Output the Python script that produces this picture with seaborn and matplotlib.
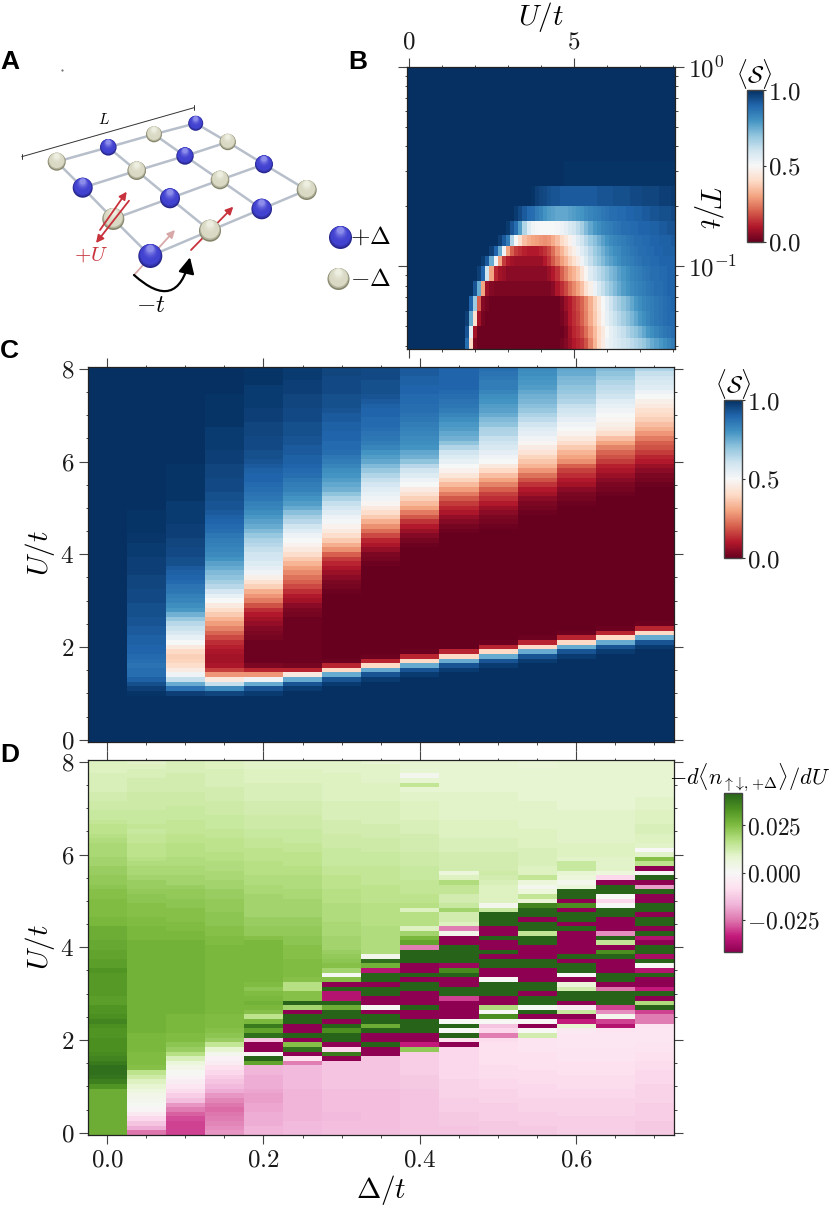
import numpy as np
import pandas as pd
import matplotlib
matplotlib.use('Agg')
import matplotlib.pyplot as plt
import seaborn as sns
from matplotlib.patches import Circle, FancyArrowPatch
from matplotlib.ticker import LogLocator, NullFormatter

W, H = 831, 1210

# ---- panel A: lattice, pixel positions of the sketch
site_x = [56.7, 108.3, 154, 195.7, 82.7, 136.7, 185, 227.7, 113.3, 170, 220, 264, 150.3, 210, 261.7, 306.7]
site_y = [161.7, 147.3, 134.3, 123.3, 187.7, 170.7, 156, 142, 219, 198.3, 180, 164.3, 256, 230.7, 209, 190]
site_r = [9, 8.3, 8, 7.5, 10, 9.3, 8.7, 8.2, 11, 10, 9.3, 9, 12, 11, 10.3, 10]
site_kind = ['g', 'b', 'g', 'b', 'b', 'g', 'b', 'g', 'g', 'b', 'g', 'b', 'b', 'g', 'b', 'g']

# ---- panel B: <S>(U, T), rows bottom to top
U_edges_b = np.arange(66) * 0.125 - 0.0625
T_edges = [0.0385, 0.0437, 0.0504, 0.0595, 0.0713, 0.0841, 0.1008, 0.1122, 0.1260, 0.1442, 0.1681, 0.2015, 0.2519, 0.3364, 1.0]
b_rows = [
    [1.0]*14 + [.88,.4,.03] + [.01]*20 + [.02,.04,.07,.1,.12,.14,.18,.25,.33,.4, .46,.52,.54,.56,.58,.6,.61,.63,.65,.67, .69,.72,.75,.77,.79,.81,.83,.85],
    [1.0]*14 + [.93,.55,.08] + [.01]*21 + [.03,.08,.12,.14,.17,.22,.28,.34,.4,.45, .5,.54,.57,.6,.62,.65,.68,.7,.73,.76, .79,.81,.83,.85,.86,.87,.88],
    [1.0]*14 + [.97,.75,.42,.08,.02] + [.01]*18 + [.02,.05,.1,.13,.16,.2,.25,.31,.37,.43, .49,.54,.58,.61,.64,.67,.7,.73,.76,.79, .81,.83,.85,.86,.87,.88,.89,.89],
    [1.0]*15 + [.9,.68,.2,.04,.02] + [.01]*17 + [.03,.07,.1,.14,.17,.21,.26,.32,.38,.44, .5,.55,.6,.64,.67,.7,.73,.76,.79,.81, .83,.84,.85,.86,.87,.88,.89,.9],
    [1.0]*16 + [.93,.75,.3,.07,.04] + [.03]*14 + [.05,.09,.13,.17,.22,.26,.3,.35,.42,.47, .53,.58,.62,.66,.69,.72,.75,.78,.8,.82, .83,.84,.85,.86,.87,.88,.88,.89,.9,.9],
    [1.0]*17 + [.97,.9,.6,.3,.12,.08,.07] + [.05]*10 + [.07,.1,.14,.2,.25,.3,.33,.37,.43,.49, .56,.6,.63,.66,.69,.72,.74,.77,.79,.81, .83,.84,.85,.86,.87,.88,.88,.89,.89,.9,.9],
    [1.0]*18 + [.98,.92,.75,.52,.3,.15,.1,.08] + [.07]*7 + [.1,.14,.19,.24,.29,.33,.38,.42,.46,.52, .57,.62,.66,.69,.72,.75,.77,.79,.81,.83, .84,.85,.86,.87,.88,.88,.89,.89,.9,.9, .9,.9],
    [1.0]*20 + [.97,.9,.75,.52,.3,.2,.15,.13,.11,.1, .1,.1,.12,.14,.17,.22,.28,.33,.38,.43, .47,.52,.56,.6,.64,.68,.71,.74,.77,.79, .81,.82,.84,.85,.86,.87,.88,.88,.89,.89, .9,.9,.91,.91,.91],
    [1.0]*22 + [.97,.92,.85,.65,.5,.42,.35,.32,.3,.29, .28,.27,.28,.31,.35,.4,.44,.48,.52,.56, .6,.64,.68,.71,.74,.77,.8,.82,.83,.84, .85,.86,.87,.88,.88,.89,.89,.9,.9,.91, .91,.91,.92],
    [1.0]*24 + [.98,.93,.88,.78,.65,.57,.52,.51,.5,.5, .5,.5,.51,.53,.55,.58,.6,.63,.67,.72, .76,.79,.81,.83,.84,.85,.86,.87,.88,.88, .89,.89,.9,.9,.9,.91,.91,.92,.92,.93, .93],
    [1.0]*26 + [.98,.95,.92,.89,.88,.85,.83,.8,.78,.77, .76,.76,.76,.77,.78,.79,.8,.82,.83,.84, .85,.86,.87,.88,.88,.89,.89,.9,.9,.91, .91,.92,.92,.93,.93,.94,.94,.94,.95],
    [1.0]*30 + [.99,.97,.96,.95,.94,.93,.93,.92,.92,.92, .92,.92,.92,.92,.92,.92,.93,.93,.93,.93, .94,.94,.94,.94,.95,.95,.95,.96,.96,.96, .96,.97,.97,.97,.98],
    [1.0]*38 + [.99]*27,
    [1.0]*65,
]

# ---- panel C: <S>(Delta, U), one list per Delta, U = 0.0 ... 8.0
delta = [0.0, 0.05, 0.1, 0.15, 0.2, 0.25, 0.3, 0.35, 0.4, 0.45, 0.5, 0.55, 0.6, 0.65, 0.7]
u_vals = [round(i * 0.1, 1) for i in range(81)]
c_0 = [1.0]*81
c_1 = [1.0]*10 + [.99,.97,.94,.91,.88,.88,.87,.88,.89,.9] + [.9,.91,.91,.92,.92,.93,.93,.94,.94,.94] + [.95,.95,.95,.96,.96,.96,.97,.97,.97,.97] + [.98,.98,.98,.985,.985,.99,.99,.99,.99,.99] + [1.0]*31
c_2 = [1.0]*10 + [.97,.87,.75,.62,.52,.46,.41,.39,.38,.40] + [.45,.5,.54,.58,.61,.64,.69,.74,.79,.81] + [.83,.84,.86,.87,.89,.9,.91,.92,.94,.94] + [.95,.95,.96,.96,.97,.97,.97,.98,.98,.98] + [.98,.98,.99,.99,.99,.99,.99,.99,.99,.99] + [1.0]*21
c_3 = [1.0]*10 + [.96,.82,.62,.45,.28,.16,.09,.08,.08,.09] + [.11,.13,.17,.21,.25,.29,.33,.37,.41,.45] + [.5,.54,.59,.64,.67,.7,.72,.75,.77,.8] + [.82,.83,.84,.85,.86,.88,.89,.9,.91,.92] + [.93,.93,.94,.94,.95,.95,.95,.96,.96,.96] + [.97,.97,.97,.98,.98,.98,.98,.98,.99,.99] + [.99]*5 + [1.0]*6
c_4 = [1.0]*10 + [.98,.93,.75,.52,.28,.12,.03,.01,.01,.01] + [.01,.01,.02,.03,.04,.06,.08,.1,.13,.18] + [.24,.28,.32,.38,.42,.47,.52,.55,.57,.59] + [.6,.62,.64,.66,.69,.72,.75,.77,.79,.81] + [.83,.84,.86,.87,.88,.89,.9,.9,.91,.92] + [.93,.94,.94,.95,.95,.95,.96,.96,.96,.97] + [.97,.97,.98,.98,.98,.98,.98,.99,.99,.99,.99]
c_5 = [1.0]*10 + [1.0,.98,.93,.75,.45,.12,.02,.01,.01,.01] + [.01]*7 + [.02,.03,.05] + [.08,.1,.13,.17,.2,.23,.26,.29,.33,.37] + [.41,.45,.48,.5,.53,.56,.6,.64,.67,.71] + [.75,.78,.8,.82,.84,.85,.86,.88,.89,.9] + [.91,.91,.92,.92,.93,.93,.94,.94,.94,.95] + [.95,.95,.96,.96,.96,.97,.97,.97,.98,.98,.98]
c_6 = [1.0]*10 + [1,1,.98,.93,.75,.4,.12,.01,0,0] + [0.0]*10 + [0,0,.01,.02,.03,.05,.07,.09,.12,.15] + [.2,.27,.32,.37,.41,.45,.48,.51,.53,.56] + [.59,.62,.66,.7,.74,.76,.78,.8,.81,.83] + [.85,.86,.88,.89,.89,.9,.9,.91,.91,.92] + [.92,.93,.94,.94,.94,.95,.95,.95,.95,.96,.96]
c_7 = [1.0]*10 + [1,1,1,.98,.93,.75,.4,.12,.01,0] + [0.0]*10 + [0.0]*8 + [.01,.02] + [.03,.06,.09,.12,.17,.22,.27,.32,.37,.41] + [.45,.49,.52,.54,.56,.59,.62,.65,.69,.72] + [.76,.78,.8,.83,.85,.86,.87,.88,.89,.89] + [.9,.9,.91,.92,.93,.94,.94,.94,.95,.95,.95]
c_8 = [1.0]*10 + [1,1,1,1,.98,.93,.75,.4,.12,.01] + [0.0]*20 + [0,0,.01,.02,.04,.07,.1,.14,.19,.24] + [.3,.34,.38,.42,.46,.5,.53,.57,.6,.64] + [.7,.74,.76,.8,.81,.82,.83,.84,.85,.86] + [.87,.88,.88,.89,.89,.9,.9,.91,.91,.92,.92]
c_9 = [1.0]*10 + [1,1,1,1,1,.98,.93,.75,.4,.12] + [0.0]*20 + [0,0,0,0,0,.01,.02,.04,.06,.09] + [.12,.15,.19,.24,.29,.34,.39,.44,.48,.5] + [.54,.57,.6,.65,.7,.74,.76,.78,.79,.81] + [.83,.85,.86,.87,.88,.89,.9,.9,.9,.9,.9]
c_10 = [1.0]*16 + [.98,.93,.75,.4] + [.12,.01] + [0.0]*8 + [0.0]*10 + [0,0,0,0,0,0,.01,.02,.03,.05] + [.07,.1,.13,.16,.2,.25,.3,.35,.4,.45] + [.5,.52,.55,.58,.6,.62,.65,.66,.7,.72] + [.75,.77,.78,.8,.81,.83,.85,.85,.86,.87,.88]
c_11 = [1.0]*17 + [.98,.93,.75] + [.4,.12,.01] + [0.0]*7 + [0.0]*10 + [0.0]*9 + [.01] + [.02,.03,.05,.08,.1,.14,.18,.23,.28,.33] + [.36,.39,.43,.46,.49,.52,.55,.57,.6,.63] + [.66,.69,.71,.73,.74,.76,.78,.79,.8,.81,.82]
c_12 = [1.0]*18 + [.98,.93] + [.75,.4,.12,.01] + [0.0]*6 + [0.0]*20 + [0,.01,.02,.03,.05,.08,.1,.13,.16,.2] + [.27,.3,.33,.37,.41,.45,.48,.5,.52,.55] + [.58,.6,.62,.65,.67,.69,.7,.72,.73,.75,.76]
c_13 = [1.0]*19 + [.98] + [.93,.75,.4,.12,.01] + [0.0]*5 + [0.0]*20 + [0,0,0,.01,.02,.03,.05,.07,.09,.11] + [.15,.18,.21,.25,.3,.35,.41,.45,.47,.49] + [.5,.52,.54,.56,.6,.62,.63,.65,.68,.7,.72]
c_14 = [1.0]*20 + [.98,.93,.75,.4,.12,.01] + [0.0]*4 + [0.0]*20 + [0,0,0,0,0,.01,.02,.03,.05,.07] + [.1,.12,.15,.18,.2,.24,.28,.32,.35,.38] + [.4,.42,.45,.47,.5,.53,.56,.58,.6,.62,.66]

# ---- panel D: -d<n>/dU in units of 1e-3, same grid as panel C
d_0 = [28]*10 + [33,37,39,40,40,38,36,35,34,34] + [34,33,33,34,36,34,33,33,31,31] + [32,32,32,32,32,33,31,31,30,30] + [29,29,28,28,28,26,26,25,25,25] + [25,24,24,23,22,22,21,21,20,20] + [19,19,19,18,17,16,16,15,14,14] + [13,13,12,12,11,11,11,11,10,10,10]
d_1 = [-25,-18,-14,-10,-5,-1,1,2,3,5] + [8,10,13,16,24,25,25,25,26,26] + [26,26,27,27,27,27,27,27,27,27] + [27]*10 + [27,27,26,26,26,25,25,24,24,24] + [23,23,22,21,21,20,19,19,18,17] + [16,16,16,15,15,14,15,14,14,14] + [13,13,13,13,12,12,12,11,11,10,9]
d_2 = [-30,-30,-30,-29,-27,-24,-21,-15,-12,-9] + [-6,-4,-1,1,3,6,11,17,21,23] + [25,25,26,26,26,26,27,27,27,27] + [27]*10 + [27,27,26,26,25,25,24,24,24,23] + [23,22,22,21,20,20,19,19,18,18] + [17,17,17,16,16,15,15,15,14,14] + [14,13,13,13,12,12,12,12,11,11,11]
d_3 = [-21,-22,-23,-24,-25,-26,-25,-23,-21,-18] + [-16,-14,-12,-10,-8,-4,-2,2,8,15] + [21,23,24,25,25,25,26,26,26,26] + [26]*10 + [26,25,25,24,24,23,23,23,22,22] + [22,21,21,20,20,19,19,18,18,17] + [17,16,16,16,15,15,14,14,14,13] + [13,13,12,12,12,11,11,11,11,10,10]
d_4 = [-17,-17,-18,-18,-18,-19,-19,-20,-20,-19] + [-18,-18,-18,-17,-17,30,42,0,-42,-42] + [-14,40,30,38,26,16,24,26,27,26] + [25,23,25,26,26,26,26,26,26,26] + [26,26,24,22,22,21,21,20,20,20] + [20,20,19,19,18,18,17,17,17,16] + [16,16,15,15,14,14,13,13,13,12] + [12,12,11,11,11,11,10,10,10,9,9]
d_5 = [-16,-16,-16,-17,-17,-17,-17,-17,-17,-17] + [-16,-16,-16,-16,-16,-24,-8,-42,40,24] + [-42,42,-42,-42,42,42,-42,20,42,24] + [24,17,17,24,25,25,25,25,24,24] + [24,23,23,22,22,21,21,20,20,20] + [20,19,19,18,18,18,17,17,16,16] + [16,15,15,14,14,14,13,13,13,12] + [12,12,11,11,11,11,10,10,10,9,9]
d_6 = [-15,-15,-15,-16,-16,-15,-15,-15,-15,-15] + [-14,-14,-14,-14,-14,-14,-42,38,-10,-42] + [42,42,34,42,-42,42,42,28,42,-36] + [-36,42,-42,24,1,20,24,23,22,21] + [20,20,20,19,19,19,18,18,18,18] + [17,17,17,16,16,16,15,15,14,14] + [14,14,13,13,13,12,12,12,11,11] + [11,11,10,10,10,10,10,10,9,9,9]
d_7 = [-15,-15,-15,-15,-15,-15,-15,-15,-15,-15] + [-14,-14,-14,-14,-14,-14,-14,-42,-42,42] + [-42,-42,42,28,42,42,-42,1,-42,-42] + [42,42,-42,42,42,-36,27,40,2,18] + [18,18,18,18,18,17,17,17,17,17] + [16,16,16,16,15,15,15,15,14,14] + [14,13,13,13,12,12,12,11,11,11] + [11,11,10,10,10,10,9,9,9,9,8]
d_8 = [-14]*10 + [-13,-13,-13,-12,-12,-12,-12,-12,22,-34] + [-42,-42,42,42,42,-42,-42,42,-42,-42] + [-42,42,42,-42,42,-42,-42,42,42,42] + [-24,30,26,20,10,17,17,17,10,17] + [16,16,15,15,15,14,14,14,13,13] + [13,12,12,12,12,11,11,11,10,10] + [10,10,9,9,8,15,8,2,8,8,8]
d_9 = [-14,-14,-13,-13,-13,-12,-12,-12,-11,-11] + [-11,-11,-10,-10,-10,-10,-10,-10,-10,-42] + [-8,42,0,42,0,-42,-42,-42,-42,-30] + [42,42,-42,-42,42,35,-40,42,42,42] + [42,-42,-42,3,-24,10,12,12,20,14] + [12,12,15,15,18,10,6,12,12,12] + [12,11,11,11,10,10,10,10,9,9] + [9,9,9,9,8,8,8,8,8,8,8]
d_10 = [-13,-13,-13,-12,-12,-12,-12,-11,-11,-11] + [-10,-10,-9,-9,-9,-8,-8,-8,-8,-8] + [-9,-24,-10,-14,0,34,0,18,-42,-42] + [42,42,42,0,-42,-42,42,42,-42,42] + [-42,-42,42,-42,-42,42,42,42,14,2] + [10,10,10,10,11,12,13,12,12,12] + [12,11,11,11,10,10,10,10,9,9] + [9,9,9,9,8,8,8,8,8,8,8]
d_11 = [-13,-13,-12,-12,-12,-11,-11,-11,-10,-10] + [-10,-9,-9,-9,-8,-8,-8,-8,-7,-7] + [-7,12,0,-42,0,-42,42,1,42,42] + [-42,42,42,-42,-42,-42,42,42,-42,-42] + [-42,42,42,15,42,42,-42,42,42,36] + [7,15,6,2,6,15,10,10,11,11] + [11,11,10,10,10,10,9,9,9,9] + [9,9,8,8,8,8,8,8,8,7,7]
d_12 = [-12,-12,-12,-12,-11,-11,-11,-11,-10,-10] + [-9,-9,-9,-8,-8,-8,-7,-7,-7,-6] + [-6,-6,-5,8,-34,-42,14,-4,-42,42] + [42,12,6,-42,0,42,42,-42,42,-42] + [-42,-42,-42,-42,42,-42,42,42,-42,34] + [-42,42,42,6,2,6,8,14,14,9] + [10,10,10,9,9,9,9,9,9,9] + [8]*11
d_13 = [-12,-12,-12,-12,-11,-11,-11,-11,-10,-10] + [-9,-9,-9,-8,-8,-8,-7,-7,-7,-6] + [-6,-6,-7,-36,-30,2,-22,-30,42,42] + [42,-25,-42,42,42,-42,-42,-42,42,34] + [-42,15,42,-22,-42,-42,-42,42,42,0] + [-10,0,42,42,-42,-10,6,9,9,9] + [10,10,10,9,9,9,9,9,9,9] + [8]*11
d_14 = [-13,-13,-13,-12,-12,-12,-12,-11,-11,-11] + [-11,-10,-10,-10,-9,-9,-8,-8,-7,-7] + [-6,-6,-6,-7,-24,-24,-30,42,18,-42] + [42,-34,-42,-42,42,-36,0,42,-38,42] + [42,-42,-36,42,-42,42,42,-42,42,42] + [-42,-42,42,-20,-42,42,0,-42,16,24] + [9,0,9,10,10,11,11,10,10,10] + [9,9,9,8,8,8,8,8,8,8,8]

c_cols = [c_0, c_1, c_2, c_3, c_4, c_5, c_6, c_7, c_8, c_9, c_10, c_11, c_12, c_13, c_14]
d_cols = [d_0, d_1, d_2, d_3, d_4, d_5, d_6, d_7, d_8, d_9, d_10, d_11, d_12, d_13, d_14]


def fit(col, n):
    return (list(col) + [col[-1]] * n)[:n]


sns.set_theme(style='ticks')
plt.rcParams['mathtext.fontset'] = 'cm'
plt.rcParams['font.family'] = ['DejaVu Serif']
plt.rcParams['text.color'] = 'black'
plt.rcParams['xtick.labelcolor'] = '#1a1a1a'
plt.rcParams['ytick.labelcolor'] = '#1a1a1a'

fig = plt.figure(figsize=(W / 100, H / 100), dpi=100)


def px_axes(x0, y0, x1, y1, **kw):
    return fig.add_axes([x0 / W, 1 - y1 / H, (x1 - x0) / W, (y1 - y0) / H], **kw)


def style_ticks(ax):
    ax.tick_params(which='major', direction='out', length=6.5, width=0.8, color='#444444',
                   top=True, bottom=True, left=True, right=True, labelsize=18, pad=3)
    ax.tick_params(which='minor', direction='out', length=1.8, width=0.7, color='#444444',
                   top=True, bottom=True, left=True, right=True)
    for s in ax.spines.values():
        s.set_visible(True)
        s.set_linewidth(0.9)
        s.set_color('#222222')


def style_cbar(cb, ticks, labels, size=18):
    cb.set_ticks(ticks)
    cb.set_ticklabels(labels)
    cb.ax.tick_params(which='major', length=2.5, width=0.8, labelsize=size, pad=1, color='#333333')
    cb.ax.minorticks_off()
    cb.outline.set_visible(True)
    cb.outline.set_linewidth(1.0)
    cb.outline.set_edgecolor('#444444')


rdbu = sns.color_palette('RdBu', as_cmap=True)
piyg = sns.color_palette('PiYG', as_cmap=True)

# overlay for the lattice sketch and free text, kept above the panels
over = px_axes(0, 0, W, H)
over.set_xlim(0, W)
over.set_ylim(H, 0)
over.axis('off')
over.set_zorder(10)

for r in range(4):
    for c in range(4):
        i = 4 * r + c
        if c < 3:
            over.plot([site_x[i], site_x[i + 1]], [site_y[i], site_y[i + 1]], color='#b7bfcb', lw=1.8, zorder=1)
        if r < 3:
            over.plot([site_x[i], site_x[i + 4]], [site_y[i], site_y[i + 4]], color='#b7bfcb', lw=1.8, zorder=1)


def sphere(x, y, r, kind, z=2):
    if kind == 'b':
        edge, mid, high = np.array([.15, .15, .55]), np.array([.26, .26, .82]), np.array([.55, .55, .92])
    else:
        edge, mid, high = np.array([.52, .52, .42]), np.array([.85, .85, .77]), np.array([.93, .93, .88])
    for k in range(10):
        f = k / 9
        col = edge + (mid - edge) * min(f * 5, 1) + (high - mid) * max(f * 1.6 - 0.6, 0) ** 2
        over.add_patch(Circle((x, y - 0.62 * r * f), r * (1 - 0.7 * f), fc=col, ec='none', zorder=z))


for x, y, r, k in zip(site_x, site_y, site_r, site_kind):
    sphere(x, y, r, k)
sphere(340.5, 237.5, 11.5, 'b')
sphere(338.5, 279, 11, 'g')

red = '#c8323c'
for (x0, y0, x1, y1, col, z) in [(100, 230, 126.7, 191.7, red, 3), (129, 200.7, 96, 243, red, 3),
                                 (191, 250, 233.3, 206.7, red, 1.5), (134, 275, 175, 230, '#d8a8a8', 1.5)]:
    over.add_patch(FancyArrowPatch((x0, y0), (x1, y1), arrowstyle='-|>', mutation_scale=11, color=col, lw=1.3, zorder=z, shrinkA=0, shrinkB=0))
over.add_patch(FancyArrowPatch((134, 275), (190, 257.3), arrowstyle='-|>', mutation_scale=24, color='black', lw=1.6,
                               connectionstyle='arc3,rad=0.85', zorder=4, shrinkA=0, shrinkB=0))

# L bar
over.plot([21.7, 194], [156.7, 107.7], color='#333333', lw=0.7, zorder=1)
for bx, by in [(21.7, 156.7), (194, 107.7)]:
    over.plot([bx, bx], [by - 2.5, by + 2.5], color='#333333', lw=0.7)
over.plot([62], [70], marker='.', ms=1, color='#555555')

over.text(104, 120, '$L$', fontsize=11, ha='center', va='center')
over.text(90.7, 255.5, '$+U$', fontsize=15, color=red, ha='center', va='center')
over.text(150.7, 306, '$-t$', fontsize=18, ha='center', va='center')
over.text(371, 237.5, r'$+\Delta$', fontsize=18, ha='center', va='center')
over.text(371, 279, r'$-\Delta$', fontsize=18, ha='center', va='center')
for lab, x, y in [('A', 0, 62), ('B', 348, 62), ('C', 0, 351), ('D', 0, 755)]:
    over.text(x, y, lab, fontsize=19, fontweight='bold', family='Liberation Sans', ha='left', va='center')
over.text(541, 17, '$U/t$', fontsize=21, ha='center', va='center')
over.text(708, 208, '$T/t$', fontsize=21, rotation=-90, ha='center', va='center')
over.text(40, 553, '$U/t$', fontsize=21, rotation=90, ha='center', va='center')
over.text(40, 947, '$U/t$', fontsize=21, rotation=90, ha='center', va='center')
over.text(381, 1190, r'$\Delta/t$', fontsize=21, ha='center', va='center')
over.text(754, 74, r'$\langle\mathcal{S}\rangle$', fontsize=17, ha='center', va='center')
over.text(733, 384, r'$\langle\mathcal{S}\rangle$', fontsize=17, ha='center', va='center')
over.text(830, 778, r'$-d\langle n_{\uparrow\!\downarrow\!,\!+\!\Delta}\rangle/dU$', fontsize=16, ha='right', va='center')

# panel B
ax_b = px_axes(407, 67, 675, 349)
b_data = np.array([fit(r, 65) for r in b_rows])
mesh = ax_b.pcolormesh(U_edges_b, T_edges, b_data, cmap=rdbu, vmin=0, vmax=1, linewidth=0, rasterized=True)
ax_b.set_yscale('log')
ax_b.set_xlim(U_edges_b[0], U_edges_b[-1])
ax_b.set_ylim(T_edges[0], T_edges[-1])
ax_b.set_xticks([0, 5])
ax_b.set_xticks([1, 2, 3, 4, 6, 7, 8], minor=True)
ax_b.set_xticklabels(['$0$', '$5$'])
ax_b.set_yticks([0.1, 1.0])
ax_b.set_yticklabels(['$10^{-1}$', '$10^{0}$'])
ax_b.yaxis.set_minor_locator(LogLocator(base=10, subs=np.arange(2, 10)))
ax_b.yaxis.set_minor_formatter(NullFormatter())
style_ticks(ax_b)
ax_b.tick_params(labeltop=True, labelbottom=False, labelright=True, labelleft=False)

cax_b = px_axes(746.7, 90, 762.7, 241.7)
cb_b = fig.colorbar(mesh, cax=cax_b)
style_cbar(cb_b, [0, 0.5, 1], ['$0.0$', '$0.5$', '$1.0$'])

# panels C and D
x_major = [i + 0.5 for i, d in enumerate(delta) if i % 4 == 0]
x_minor = [i + 0.5 for i, d in enumerate(delta) if i % 4 != 0]
x_labels = ['$%.1f$' % d for i, d in enumerate(delta) if i % 4 == 0]
y_major = [i + 0.5 for i, u in enumerate(u_vals) if i % 20 == 0]
y_minor = [i + 0.5 for i, u in enumerate(u_vals) if i % 5 == 0 and i % 20 != 0]
y_labels = ['$%d$' % u for i, u in enumerate(u_vals) if i % 20 == 0]


def grid_panel(ax, cax, cols, cmap, vmin, vmax):
    df = pd.DataFrame(np.array([fit(c, 81) for c in cols]).T, index=u_vals, columns=delta)
    sns.heatmap(df, ax=ax, cmap=cmap, vmin=vmin, vmax=vmax, cbar_ax=cax, xticklabels=False, yticklabels=False)
    ax.invert_yaxis()
    ax.set_xticks(x_major)
    ax.set_xticks(x_minor, minor=True)
    ax.set_yticks(y_major)
    ax.set_yticks(y_minor, minor=True)
    ax.set_xticklabels(x_labels, rotation=0)
    ax.set_yticklabels(y_labels, rotation=0)
    ax.set_xlabel('')
    ax.set_ylabel('')
    style_ticks(ax)
    ax.tick_params(labelright=False, labeltop=False)
    return ax.collections[0].colorbar


ax_c = px_axes(87.5, 366.5, 674, 742)
cax_c = px_axes(724.3, 400, 742, 558)
cb_c = grid_panel(ax_c, cax_c, c_cols, rdbu, 0, 1)
ax_c.tick_params(labelbottom=False)
style_cbar(cb_c, [0, 0.5, 1], ['$0.0$', '$0.5$', '$1.0$'])

ax_d = px_axes(87.5, 759.5, 674, 1135)
cax_d = px_axes(724.3, 793, 742, 952)
cb_d = grid_panel(ax_d, cax_d, [[v / 1000 for v in c] for c in d_cols], piyg, -0.042, 0.042)
style_cbar(cb_d, [-0.025, 0, 0.025], ['$-0.025$', '$0.000$', '$0.025$'], size=17)

fig.savefig('out.png', dpi=100)
